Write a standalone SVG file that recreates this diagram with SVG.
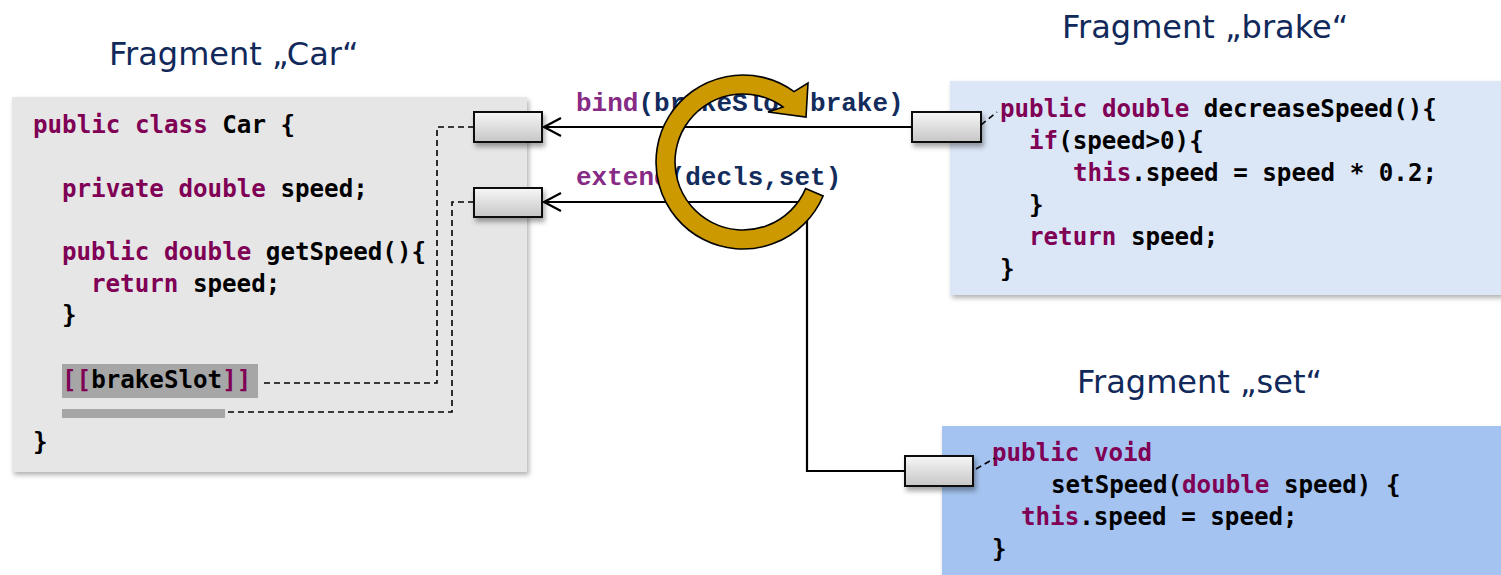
<svg xmlns="http://www.w3.org/2000/svg" width="1501" height="575" viewBox="0 0 1501 575">
  <defs>
    <style>
      .title { font-family: "DejaVu Sans", Verdana, sans-serif; font-size: 32px; fill: #10295a; }
      .code { font-family: "DejaVu Sans Mono", "Liberation Mono", monospace; font-weight: bold; font-size: 24.2px; fill: #000; }
      .kw { fill: #7f0055; }
      .op { font-family: "Liberation Mono", "Courier New", monospace; font-weight: bold; font-size: 26px; fill: #132c5c; }
      .opkw { fill: #862a86; }
      .slot { fill: url(#slotGrad); stroke: #111; stroke-width: 2; filter: url(#shadow); }
      .wire { fill: none; stroke: #000; stroke-width: 2.2; }
      .dash { fill: none; stroke: #000; stroke-width: 1.6; stroke-dasharray: 6 4; }
      .hl { fill: #a6a6a6; }
    </style>
    <linearGradient id="slotGrad" x1="0" y1="0" x2="0" y2="1">
      <stop offset="0" stop-color="#f7f7f7"/>
      <stop offset="1" stop-color="#c6c6c6"/>
    </linearGradient>
    <filter id="shadow" x="-20%" y="-20%" width="140%" height="160%">
      <feDropShadow dx="2" dy="4" stdDeviation="2.5" flood-color="#000" flood-opacity="0.35"/>
    </filter>
    <filter id="panelShadow" x="-5%" y="-5%" width="110%" height="115%">
      <feDropShadow dx="2" dy="3" stdDeviation="2.5" flood-color="#000" flood-opacity="0.3"/>
    </filter>
    <!-- open chevron; tip sits on the path end -->
    <marker id="openArrow" viewBox="0 0 20 20" refX="19" refY="10" markerWidth="20" markerHeight="20" markerUnits="userSpaceOnUse" orient="auto">
      <path d="M2,1 L19,10 L2,19" fill="none" stroke="#000" stroke-width="2.2"/>
    </marker>
  </defs>

  <rect width="1501" height="575" fill="#fff"/>

  <!-- Fragment "Car" -->
  <g id="fragment-car">
    <text class="title" x="109" y="65">Fragment „Car“</text>
    <rect x="12" y="97" width="515" height="375" fill="#e6e6e6" filter="url(#panelShadow)"/>
    <rect class="hl" x="62" y="364" width="196" height="34"/>
    <rect class="hl" x="62" y="409" width="163" height="9"/>
    <text class="code" x="33" y="133"><tspan class="kw">public class</tspan> Car {</text>
    <text class="code" x="62" y="197"><tspan class="kw">private double</tspan> speed;</text>
    <text class="code" x="62" y="260"><tspan class="kw">public double</tspan> getSpeed(){</text>
    <text class="code" x="91" y="292"><tspan class="kw">return</tspan> speed;</text>
    <text class="code" x="62" y="323">}</text>
    <text class="code" x="62" y="388"><tspan class="kw">[[</tspan>brakeSlot<tspan class="kw">]]</tspan></text>
    <text class="code" x="33" y="450">}</text>
  </g>

  <!-- Fragment "brake" -->
  <g id="fragment-brake">
    <text class="title" x="1062" y="38">Fragment „brake“</text>
    <rect x="950" y="81" width="560" height="214" fill="#dbe6f7" filter="url(#panelShadow)"/>
    <text class="code" x="1000" y="117"><tspan class="kw">public double</tspan> decreaseSpeed(){</text>
    <text class="code" x="1029" y="149"><tspan class="kw">if</tspan>(speed&gt;0){</text>
    <text class="code" x="1073" y="181"><tspan class="kw">this</tspan>.speed = speed * 0.2;</text>
    <text class="code" x="1029" y="213">}</text>
    <text class="code" x="1029" y="245"><tspan class="kw">return</tspan> speed;</text>
    <text class="code" x="1000" y="277">}</text>
  </g>

  <!-- Fragment "set" -->
  <g id="fragment-set">
    <text class="title" x="1077" y="393">Fragment „set“</text>
    <rect x="942" y="426" width="570" height="160" fill="#a4c3f0" filter="url(#panelShadow)"/>
    <text class="code" x="992" y="461"><tspan class="kw">public void</tspan></text>
    <text class="code" x="1051" y="493">setSpeed(<tspan class="kw">double</tspan> speed) {</text>
    <text class="code" x="1021" y="525"><tspan class="kw">this</tspan>.speed = speed;</text>
    <text class="code" x="992" y="557">}</text>
  </g>

  <!-- Slots -->
  <g id="slot-car-brake"><rect class="slot" x="474" y="112" width="68" height="30"/></g>
  <g id="slot-car-decls"><rect class="slot" x="474" y="188" width="68" height="29"/></g>
  <g id="slot-brake"><rect class="slot" x="912" y="112" width="69" height="30"/></g>
  <g id="slot-set"><rect class="slot" x="905" y="456" width="68" height="30"/></g>

  <!-- Connectors -->
  <g id="connectors">
    <path class="dash" d="M474,127 H437 V383 H260"/>
    <path class="dash" d="M474,202 H452 V412 H227"/>
    <path class="dash" d="M981,125 L997,112"/>
    <path class="dash" d="M976,469 L995,458"/>
    <line class="wire" x1="912" y1="127" x2="544" y2="127" marker-end="url(#openArrow)"/>
    <path class="wire" d="M905,471 H807 V202 H544" marker-end="url(#openArrow)"/>
  </g>

  <!-- Operation labels -->
  <g id="labels">
    <text class="op" x="576" y="111"><tspan class="opkw">bind</tspan>(brakeSlot,brake)</text>
    <text class="op" x="576" y="185"><tspan class="opkw">extend</tspan>(decls,set)</text>
  </g>

  <!-- Circular composition arrow -->
  <g id="cycle-arrow">
    <path d="M805.6,188.6 L823.1,196 A87,87 0 1 1 794.1,91.6 L808,83 L806,117 L768,112 L783,107 A68,68 0 1 0 805.6,188.6 Z"
          fill="#cc9900" stroke="#000" stroke-width="1.6" stroke-linejoin="miter"/>
  </g>
</svg>
